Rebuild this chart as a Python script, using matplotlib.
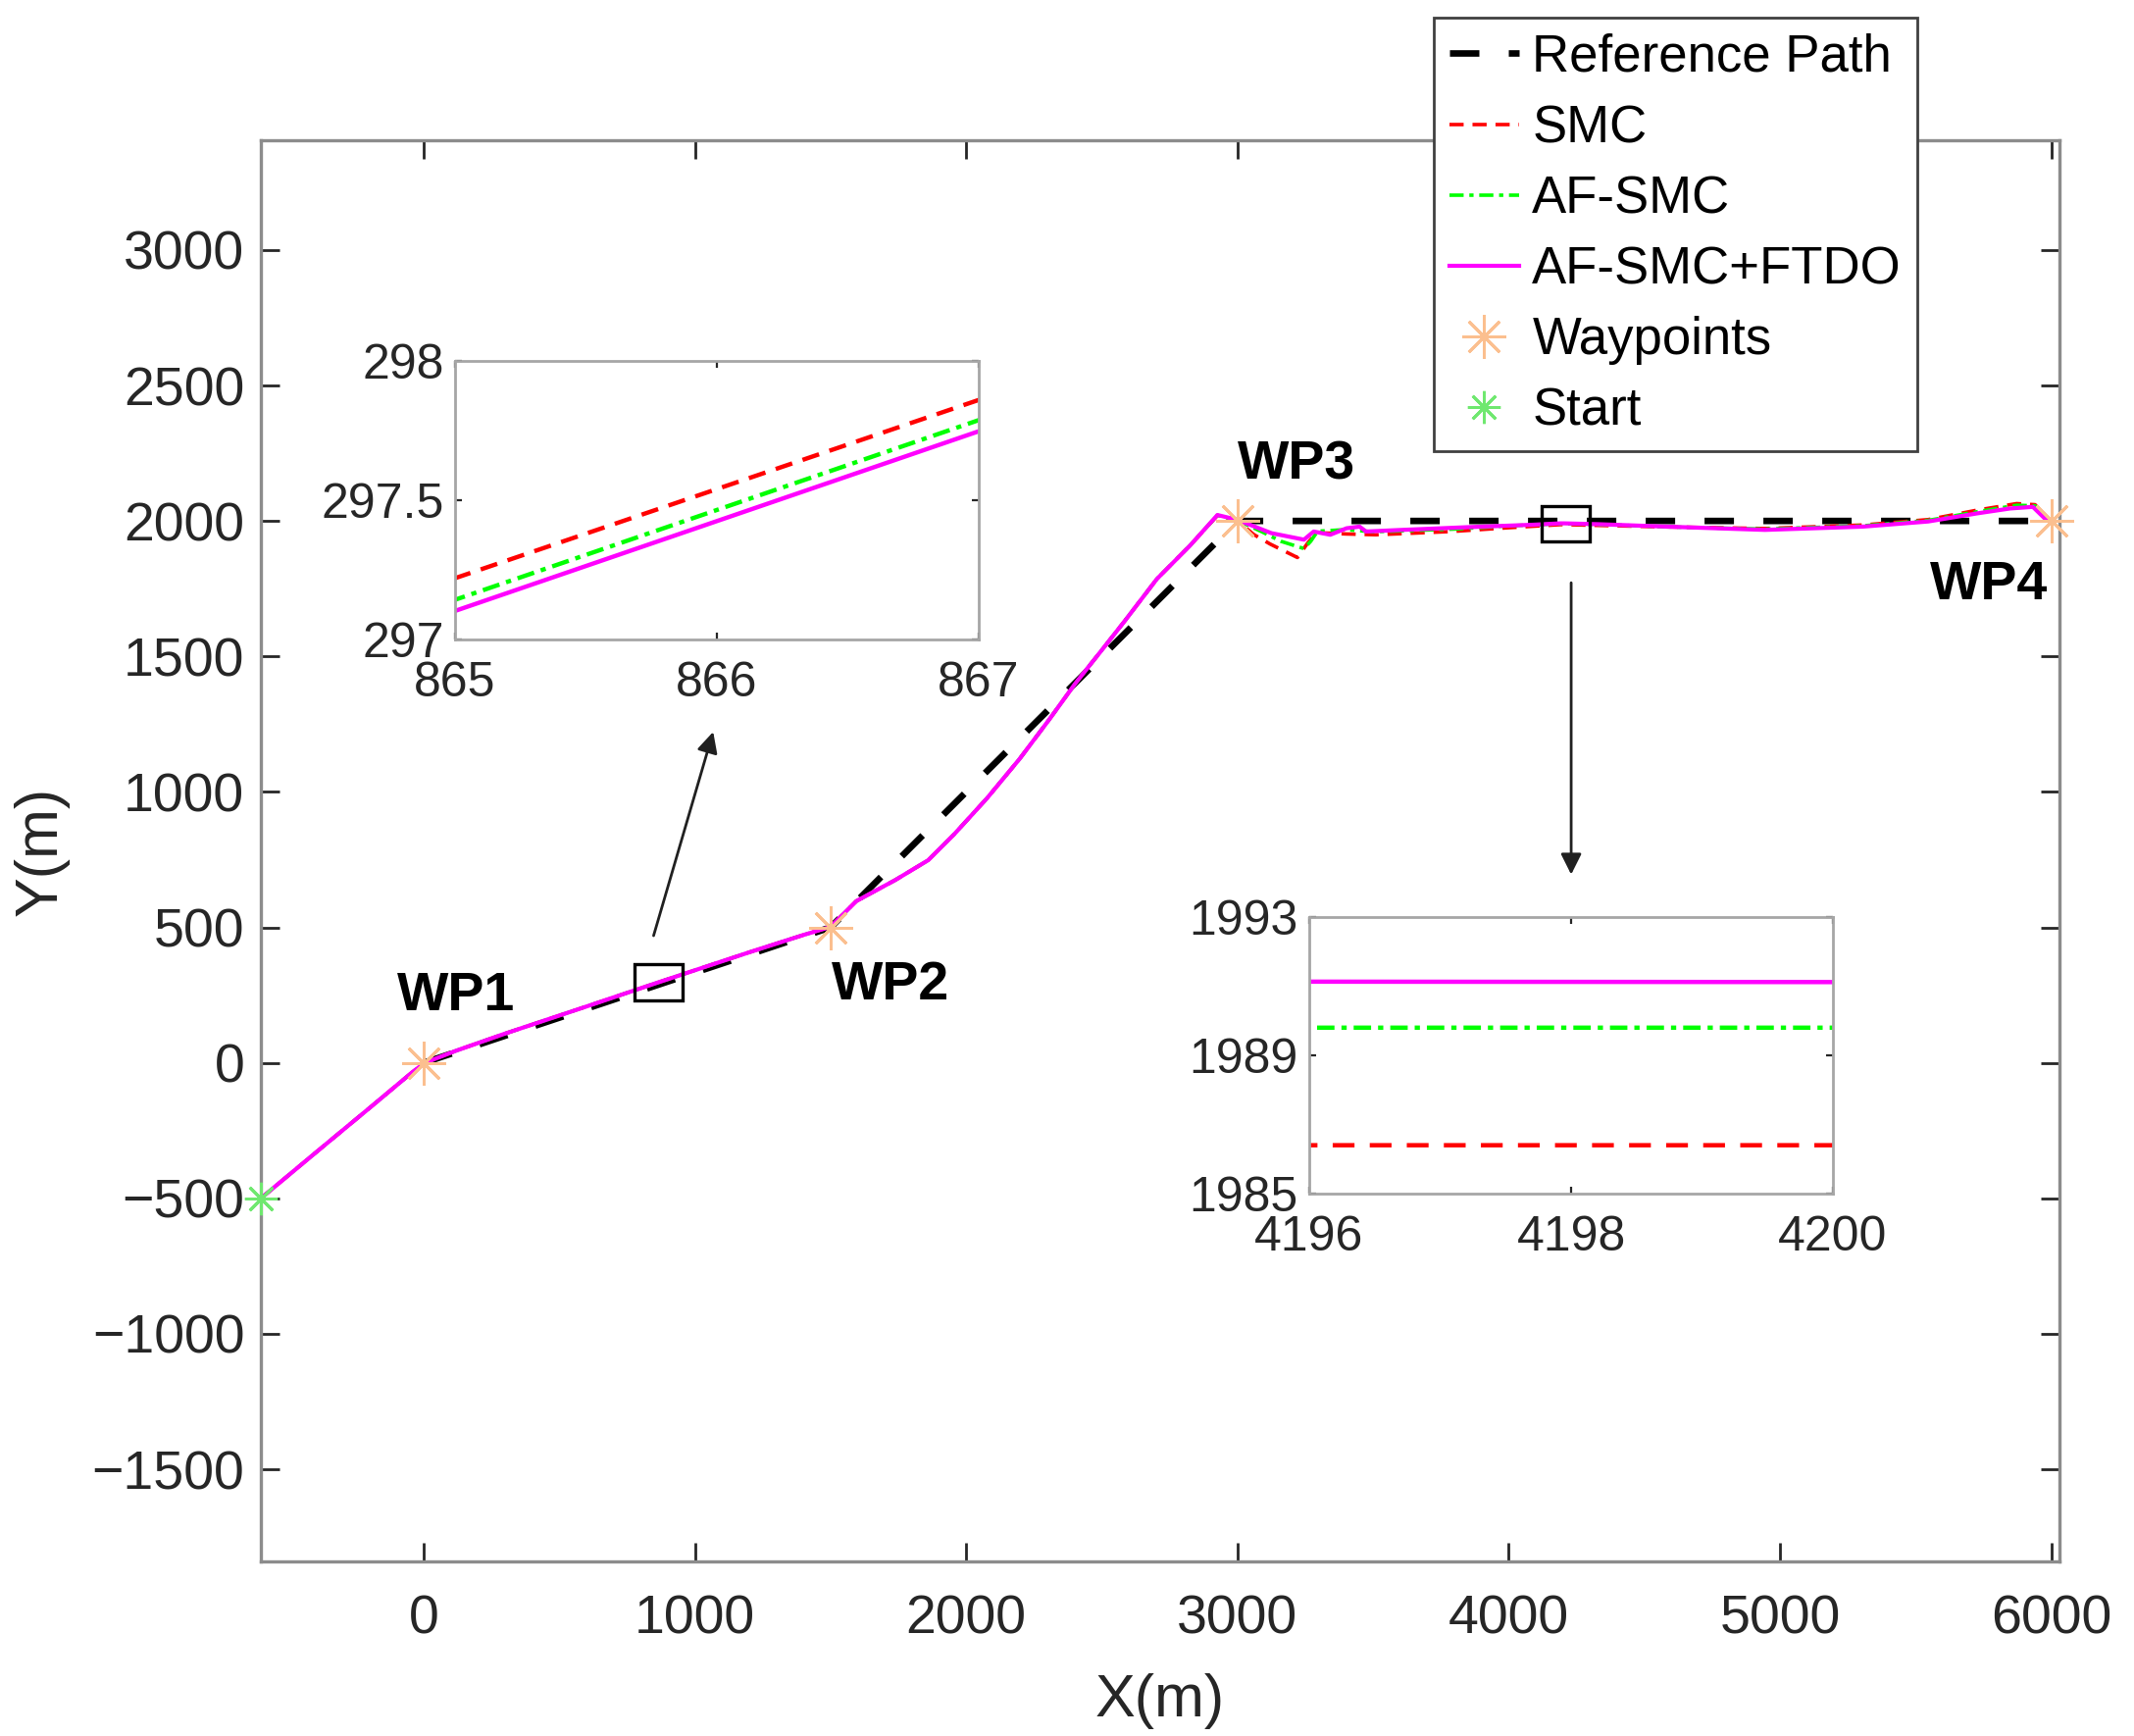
import matplotlib
matplotlib.use("Agg")
import matplotlib.pyplot as plt
from matplotlib.patches import Rectangle

plt.rcParams['font.family'] = ['Liberation Sans', 'DejaVu Sans']

# waypoints / start
wp_x = [0, 1500, 3000, 6000]
wp_y = [0, 500, 2000, 2000]
wp_names = ["WP1", "WP2", "WP3", "WP4"]
wp_lab_x = [120, 1722, 3218, 5769]
wp_lab_y = [244, 284, 2205, 1762]
start_x = [-600]
start_y = [-500]

# reference path
ref_x = [0, 1500, 3000, 6000]
ref_y = [0, 500, 2000, 2000]

# AF-SMC+FTDO
ftdo_x = [-600, -400, -200, -40, 0, 40, 120, 300, 600, 864, 868, 1200, 1400, 1500,
          1595, 1739, 1860, 1956, 2077, 2197, 2306, 2402, 2498, 2583, 2703, 2824, 2926,
          3000, 3125, 3245, 3281, 3342, 3402, 3450, 3474, 3607, 3848, 4089, 4190, 4206,
          4330, 4583, 4944, 5305, 5546, 5727, 5848, 5932, 5980, 6000]
ftdo_y = [-500, -333, -167, -33, -3, 14, 45, 108, 208, 296.78, 298.07, 408, 472, 502,
          597, 675, 748, 844, 977, 1122, 1267, 1400, 1521, 1629, 1786, 1908, 2022,
          2004, 1955, 1931, 1961, 1949, 1973, 1979, 1961, 1967, 1977, 1986, 1991.15, 1991.1,
          1988, 1979, 1967, 1979, 1998, 2028, 2046, 2052, 2005, 2000]

# SMC
smc_x = [-600, -400, -200, -40, 0, 40, 120, 300, 600, 864, 868, 1200, 1400, 1500,
         1595, 1739, 1860, 1956, 2077, 2197, 2306, 2402, 2498, 2583, 2703, 2824, 2926,
         3000, 3060, 3120, 3221, 3260, 3292, 3400, 3510, 3788, 4000, 4190, 4206,
         4400, 4583, 4944, 5305, 5546, 5727, 5872, 5940, 5985, 6000]
smc_y = [-500, -333, -167, -33, -3, 14, 45, 108, 208, 296.90, 298.18, 408, 472, 502,
         597, 675, 748, 844, 977, 1122, 1267, 1400, 1521, 1629, 1786, 1908, 2020,
         2000, 1950, 1915, 1865, 1920, 1957, 1952, 1949, 1961, 1975, 1986.4, 1986.4,
         1982, 1978, 1972, 1985, 2005, 2040, 2064, 2060, 2010, 2000]

# AF-SMC
afsmc_x = [-600, -400, -200, -40, 0, 40, 120, 300, 600, 864, 868, 1200, 1400, 1500,
           1595, 1739, 1860, 1956, 2077, 2197, 2306, 2402, 2498, 2583, 2703, 2824, 2926,
           3000, 3090, 3160, 3245, 3270, 3295, 3400, 3500, 3800, 4000, 4190, 4206,
           4400, 4583, 4944, 5305, 5546, 5727, 5872, 5940, 5985, 6000]
afsmc_y = [-500, -333, -167, -33, -3, 14, 45, 108, 208, 296.82, 298.11, 408, 472, 502,
           597, 675, 748, 844, 977, 1122, 1267, 1400, 1521, 1629, 1786, 1908, 2021,
           2002, 1960, 1925, 1898, 1925, 1962, 1968, 1960, 1970, 1982, 1989.8, 1989.8,
           1985, 1978, 1970, 1982, 2002, 2034, 2058, 2056, 2008, 2000]

# zoom boxes (center x, center y)
box_cx = [866, 4210]
box_cy = [297, 1990]
box_w, box_h = 175, 133

star = (8, 2, 0)
wp_col = '#FBBF8F'
st_col = '#6FE86F'
txt_col = '#262626'
spine_col = '#8C8C8C'

fig = plt.figure(figsize=(10.88, 8.85), dpi=200)
W, H = 2176, 1770
ax = fig.add_axes([266/W, 1-1592/H, (2100-266)/W, (1592-143)/H])

ax.plot(ref_x, ref_y, color='k', lw=2.4, dashes=(4.5, 4.5), label='Reference Path')
ax.plot(smc_x, smc_y, color='#FF0000', lw=1.3, dashes=(4, 2.5), label='SMC')
ax.plot(afsmc_x, afsmc_y, color='#00FF00', lw=1.3, dashes=(4, 1.6, 1.2, 1.6), label='AF-SMC')
ax.plot(ftdo_x, ftdo_y, color='#FF00FF', lw=1.5, label='AF-SMC+FTDO')
ax.plot(wp_x, wp_y, ls='none', marker=star, ms=16, mew=1.0, color=wp_col,
        label='Waypoints', clip_on=False, zorder=4)
ax.plot(start_x, start_y, ls='none', marker=star, ms=12, mew=1.0, color=st_col,
        label='Start', clip_on=False, zorder=4)

for n, lx, ly in zip(wp_names, wp_lab_x, wp_lab_y):
    ax.text(lx, ly, n, fontsize=20, fontweight='bold', ha='center', va='center', color='k')

for cx, cy in zip(box_cx, box_cy):
    ax.add_patch(Rectangle((cx - box_w/2, cy - box_h/2), box_w, box_h,
                           fill=False, ec='k', lw=1.2, zorder=5))

ax.annotate('', xy=(1073, 1241), xytext=(842, 450),
            arrowprops=dict(arrowstyle='-|>', color='#202020', lw=1.0, mutation_scale=16))
ax.annotate('', xy=(4230, 675), xytext=(4230, 1792),
            arrowprops=dict(arrowstyle='-|>', color='#202020', lw=1.0, mutation_scale=16))

ax.set_xlim(-600, 6030)
ax.set_ylim(-1840, 3405)
ax.set_xticks(range(0, 6001, 1000))
ax.set_yticks(range(-1500, 3001, 500))
ax.tick_params(direction='in', length=7, width=1.0, colors=txt_col, labelsize=20,
               top=True, right=True, pad=6)
ax.tick_params(axis='x', pad=12)
for s in ax.spines.values():
    s.set_color(spine_col)
    s.set_linewidth(1.2)
ax.set_xlabel('X(m)', fontsize=22, color=txt_col)
ax.set_ylabel('Y(m)', fontsize=22, color=txt_col)
ax.xaxis.set_label_coords(0.5, -0.098)
ax.yaxis.set_label_coords(-0.122, 0.5)
ax.xaxis.label.set_va('center')
ax.yaxis.label.set_va('center')

fig.legend(*ax.get_legend_handles_labels(), loc='upper left',
           bbox_to_anchor=(1462/W, 1-18/H), fontsize=19, frameon=True, fancybox=False,
           edgecolor='#404040', framealpha=1, borderaxespad=0, handlelength=1.35,
           handletextpad=0.25, labelspacing=0.42, borderpad=0.3)

# inset 1
ax1 = fig.add_axes([464/W, 1-652/H, 534/W, 284/H])
ax1.plot(smc_x, smc_y, color='#FF0000', lw=1.6, dashes=(4, 2.5))
ax1.plot(afsmc_x, afsmc_y, color='#00FF00', lw=1.6, dashes=(4, 1.6, 1.2, 1.6))
ax1.plot(ftdo_x, ftdo_y, color='#FF00FF', lw=1.6)
ax1.set_xlim(865, 867)
ax1.set_ylim(297, 298)
ax1.set_xticks([865, 866, 867])
ax1.set_yticks([297, 297.5, 298])
ax1.set_yticklabels(['297', '297.5', '298'])

# inset 2
ax2 = fig.add_axes([1335/W, 1-1217/H, 534/W, 282/H])
ax2.plot(smc_x, smc_y, color='#FF0000', lw=1.6, dashes=(5, 3.5))
ax2.plot(afsmc_x, afsmc_y, color='#00FF00', lw=1.6, dashes=(4, 1.6, 1.2, 1.6))
ax2.plot(ftdo_x, ftdo_y, color='#FF00FF', lw=1.6)
ax2.set_xlim(4196, 4200)
ax2.set_ylim(1985, 1993)
ax2.set_xticks([4196, 4198, 4200])
ax2.set_yticks([1985, 1989, 1993])

for a in (ax1, ax2):
    a.tick_params(direction='in', length=2.5, width=0.8, colors=txt_col, labelsize=18,
                  top=True, right=True, pad=4)
    a.tick_params(axis='x', pad=8)
    for s in a.spines.values():
        s.set_color('#A6A6A6')
        s.set_linewidth(1.0)

fig.savefig('out.png', dpi=200)
